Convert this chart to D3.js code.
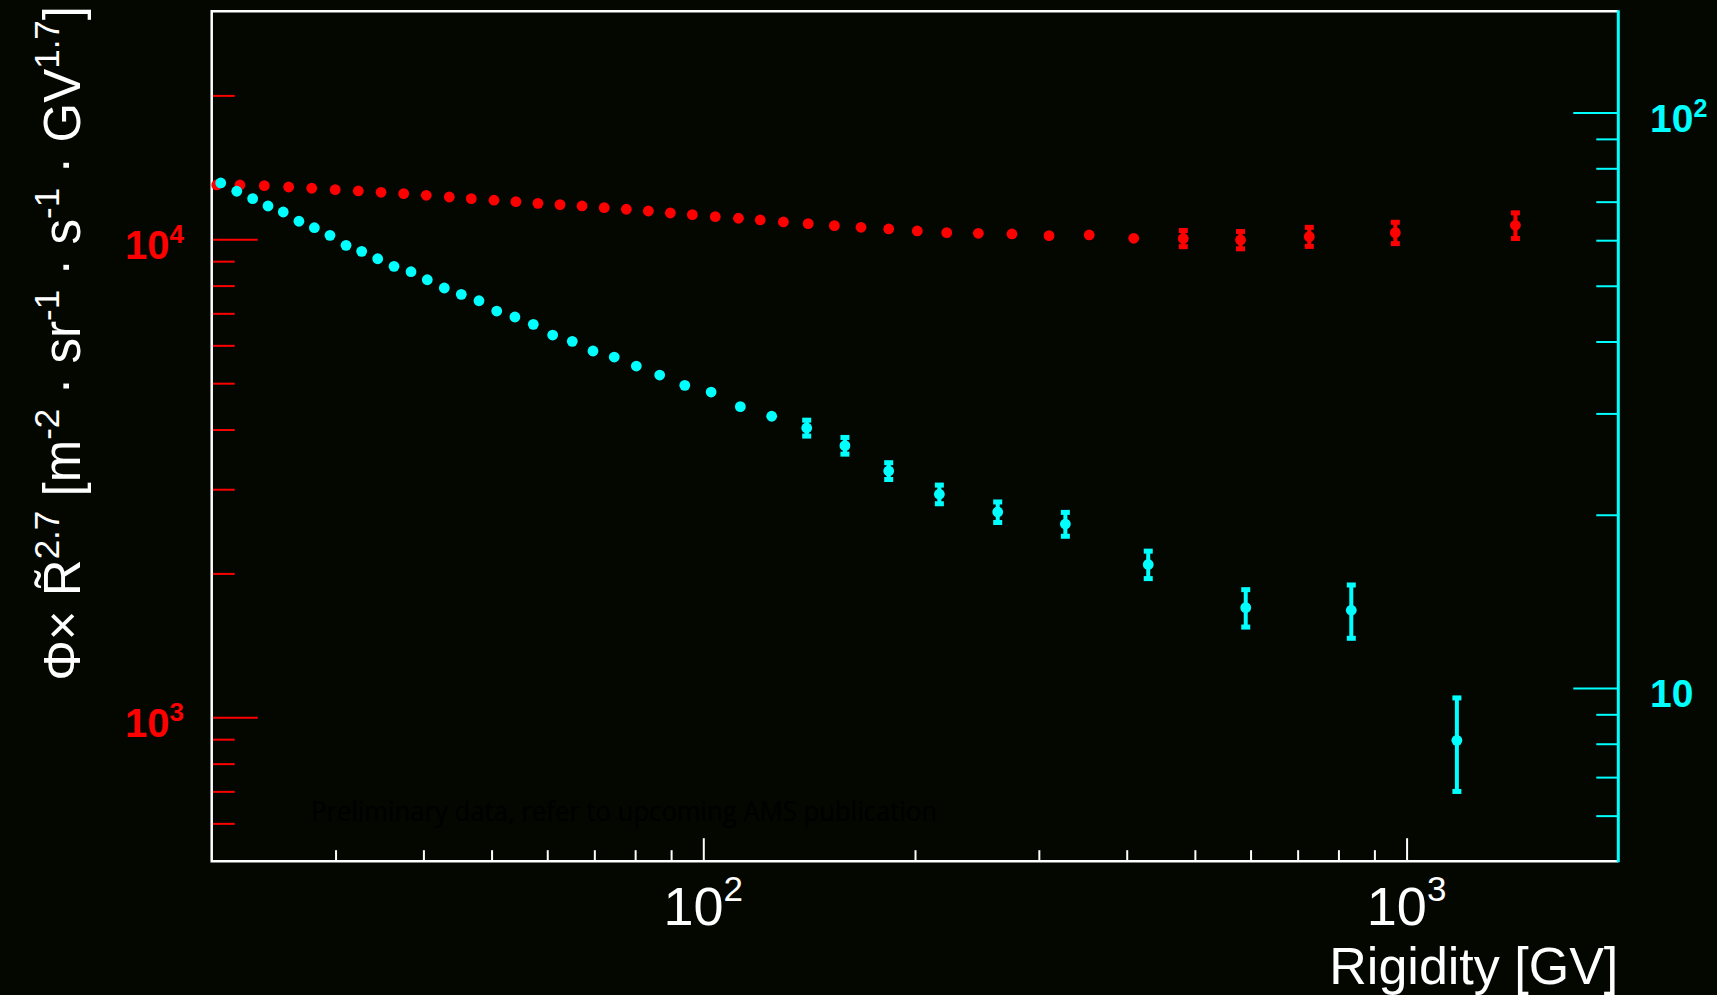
<!DOCTYPE html>
<html>
<head>
<meta charset="utf-8">
<script src="https://cdn.jsdelivr.net/npm/d3@7"></script>
<style>
  html, body { margin: 0; padding: 0; background: #040600; overflow: hidden; }
  svg { display: block; }
</style>
</head>
<body>
<div id="chart"></div>
<script>
// red series (left axis)
var redRigidity = [20.33, 21.94, 23.76, 25.73, 27.75, 29.97, 32.32, 34.82, 37.50, 40.38,
                   43.54, 46.79, 50.40, 54.15, 58.20, 62.56, 67.24, 72.30, 77.73, 83.54,
                   89.77, 96.49, 104.0, 112.2, 120.5, 130.0, 141.0, 153.6, 167.6, 183.5,
                   201.5, 221.9, 246.1, 274.7, 310.2, 353.8, 409.3, 481.4, 580.6, 727.2,
                   963.8, 1428];
var redFlux = [12990, 12990, 12945, 12865, 12785, 12700, 12620, 12540, 12460, 12360,
               12260, 12160, 12070, 11985, 11890, 11815, 11740, 11645, 11555, 11460,
               11350, 11260, 11150, 11065, 10975, 10870, 10780, 10677, 10595, 10509,
               10408, 10323, 10293, 10259, 10175, 10210, 10048, 10040, 9966, 10126,
               10323, 10697];
var redErr = [0, 0, 0, 0, 0, 0, 0, 0, 0, 0,
              0, 0, 0, 0, 0, 0, 0, 0, 0, 0,
              0, 0, 0, 0, 0, 0, 0, 0, 0, 0,
              0, 0, 0, 0, 0, 0, 0, 390, 415, 465,
              530, 660];

// cyan series (right axis)
var cyanRigidity = [20.60, 21.71, 22.87, 24.05, 25.28, 26.61, 27.99, 29.46, 31.05, 32.68,
                    34.44, 36.33, 38.41, 40.51, 42.83, 45.28, 47.98, 50.85, 53.97, 57.32,
                    61.07, 65.12, 69.69, 74.71, 80.31, 86.70, 94.12, 102.6, 112.9, 125.1,
                    140.3, 159.0, 183.5, 216.6, 262.2, 327.2, 429.2, 590.6, 834.4, 1179];
var cyanFlux = [75.44, 72.98, 70.84, 68.80, 67.17, 64.72, 63.07, 61.18, 58.78, 57.38,
                55.71, 54.04, 52.89, 51.22, 49.55, 48.31, 47.09, 45.19, 44.12, 42.85,
                41.05, 40.03, 38.51, 37.59, 36.26, 34.98, 33.57, 32.68, 30.82, 29.66,
                28.30, 26.37, 23.83, 21.71, 20.22, 19.27, 16.39, 13.79, 13.65, 8.11];
var cyanErr = [0, 0, 0, 0, 0, 0, 0, 0, 0, 0,
               0, 0, 0, 0, 0, 0, 0, 0, 0, 0,
               0, 0, 0, 0, 0, 0, 0, 0, 0, 0,
               0.9, 0.88, 0.8, 0.81, 0.83, 0.92, 0.9, 1.03, 1.45, 1.5];

// ticks
var xMajor = [100, 1000];
var xMajorExp = ["2", "3"];
var xMinor = [30, 40, 50, 60, 70, 80, 90, 200, 300, 400, 500, 600, 700, 800, 900];
var redMajor = [10000, 1000];
var redMajorExp = ["4", "3"];
var redMinor = [20000, 9000, 8000, 7000, 6000, 5000, 4000, 3000, 2000, 900, 800, 700, 600];
var cyanMajor = [100, 10];
var cyanMajorBase = ["10", "10"];
var cyanMajorExp = ["2", ""];
var cyanMinor = [90, 80, 70, 60, 50, 40, 30, 20, 9, 8, 7, 6];

var width = 1717, height = 995;
var plot = { left: 211.7, right: 1618.3, top: 11.2, bottom: 861.2 };

var RED = "#ff0000", CYAN = "#00ffff", WHITE = "#ffffff";
var FONT = "'Liberation Sans', Arial, Helvetica, sans-serif";

var svg = d3.select("#chart")
            .append("svg")
            .attr("width", width)
            .attr("height", height);

svg.append("rect")
   .attr("width", width)
   .attr("height", height)
   .attr("fill", "#040600");

var xScale = d3.scaleLog().domain([20, 2000]).range([plot.left, plot.right]);
var yRed = d3.scaleLog().domain([500, 30000]).range([plot.bottom, plot.top]);
var yCyan = d3.scaleLog().domain([5, 150]).range([plot.bottom, plot.top]);

// watermark
svg.append("text")
   .attr("x", 311)
   .attr("y", 821)
   .attr("textLength", 626)
   .attr("lengthAdjust", "spacingAndGlyphs")
   .style("font-family", "'Open Sans', sans-serif")
   .style("font-size", "27px")
   .attr("fill", "#000000")
   .text("Preliminary data, refer to upcoming AMS publication");

// ticks (pointing inward)
function ticks(axis, values, size, color, transform) {
    var g = svg.append("g")
       .attr("transform", transform)
       .attr("color", color)
       .call(axis.tickValues(values).tickSize(size).tickFormat(""));
    g.select(".domain").remove();
    g.selectAll("line").attr("stroke-width", 2);
}

ticks(d3.axisBottom(xScale), xMinor, -11, WHITE, "translate(0," + plot.bottom + ")");
ticks(d3.axisBottom(xScale), xMajor, -23, WHITE, "translate(0," + plot.bottom + ")");
ticks(d3.axisLeft(yRed), redMinor, -23, RED, "translate(" + plot.left + ",0)");
ticks(d3.axisLeft(yRed), redMajor, -46, RED, "translate(" + plot.left + ",0)");
ticks(d3.axisRight(yCyan), cyanMinor, -22, CYAN, "translate(" + plot.right + ",0)");
ticks(d3.axisRight(yCyan), cyanMajor, -45, CYAN, "translate(" + plot.right + ",0)");

// frame
svg.append("path")
   .attr("d", "M" + plot.right + "," + plot.top + "H" + plot.left + "V" + plot.bottom + "H" + plot.right)
   .attr("fill", "none")
   .attr("stroke", WHITE)
   .attr("stroke-width", 2.5);
svg.append("line")
   .attr("x1", plot.right).attr("x2", plot.right)
   .attr("y1", plot.top - 1).attr("y2", plot.bottom + 1)
   .attr("stroke", CYAN)
   .attr("stroke-width", 3);

// label with superscript
function supLabel(x, y, anchor, base, sup, size, supSize, raise, color, weight) {
    var t = svg.append("text")
       .attr("x", x)
       .attr("y", y)
       .attr("text-anchor", anchor)
       .attr("fill", color)
       .style("font-family", FONT)
       .style("font-weight", weight)
       .style("font-size", size + "px");
    t.append("tspan").text(base);
    if (sup) {
        t.append("tspan")
         .attr("dy", -raise)
         .style("font-size", supSize + "px")
         .text(sup);
    }
}

xMajor.forEach(function(v, i) {
    supLabel(xScale(v), 924.5, "middle", "10", xMajorExp[i], 54, 35, 24, WHITE, "normal");
});
redMajor.forEach(function(v, i) {
    supLabel(184, yRed(v) + 20, "end", "10", redMajorExp[i], 40, 26, 16, RED, "bold");
});
cyanMajor.forEach(function(v, i) {
    supLabel(1650, yCyan(v) + 19, "start", cyanMajorBase[i], cyanMajorExp[i], 39, 25, 15, CYAN, "bold");
});

// x title
svg.append("text")
   .attr("x", plot.right)
   .attr("y", 983.5)
   .attr("text-anchor", "end")
   .attr("fill", WHITE)
   .style("font-family", FONT)
   .style("font-size", "52px")
   .text("Rigidity [GV]");

// y title
var ySize = 51, yRaise = 21;
var yParts = [["\u03A6\u00D7 R\u0303", false], ["2.7", true], [" [m", false], ["-2", true],
              [" \u00B7 sr", false], ["-1", true], [" \u00B7 s", false], ["-1", true],
              [" \u00B7 GV", false], ["1.7", true], ["]", false]];
var yTitle = svg.append("text")
   .attr("transform", "translate(80,6) rotate(-90)")
   .attr("text-anchor", "end")
   .attr("fill", WHITE)
   .style("font-family", FONT)
   .style("font-size", ySize + "px");
yParts.forEach(function(p, i) {
    var ts = yTitle.append("tspan").text(p[0]);
    if (p[1]) {
        ts.attr("dy", -yRaise).style("font-size", Math.round(ySize * 0.68) + "px");
    } else if (i > 0) {
        ts.attr("dy", yRaise);
    }
});

// points with error bars
function series(xs, ys, errs, yScale, color) {
    var data = xs.map(function(d, i) { return { x: d, y: ys[i], e: errs[i] }; });
    var g = svg.append("g");
    var withErr = data.filter(function(d) { return d.e > 0; });

    g.selectAll("line.err")
     .data(withErr)
     .enter()
     .append("line")
     .attr("x1", function(d) { return xScale(d.x); })
     .attr("x2", function(d) { return xScale(d.x); })
     .attr("y1", function(d) { return yScale(d.y + d.e); })
     .attr("y2", function(d) { return yScale(d.y - d.e); })
     .attr("stroke", color)
     .attr("stroke-width", 4);

    [1, -1].forEach(function(s) {
        g.selectAll("rect.cap" + s)
         .data(withErr)
         .enter()
         .append("rect")
         .attr("x", function(d) { return xScale(d.x) - 4.5; })
         .attr("y", function(d) { return yScale(d.y + s * d.e) - 2.5; })
         .attr("width", 9)
         .attr("height", 5)
         .attr("fill", color);
    });

    g.selectAll("circle")
     .data(data)
     .enter()
     .append("circle")
     .attr("cx", function(d) { return xScale(d.x); })
     .attr("cy", function(d) { return yScale(d.y); })
     .attr("r", 5.4)
     .attr("fill", color);
}

series(redRigidity, redFlux, redErr, yRed, RED);
series(cyanRigidity, cyanFlux, cyanErr, yCyan, CYAN);
</script>
</body>
</html>
